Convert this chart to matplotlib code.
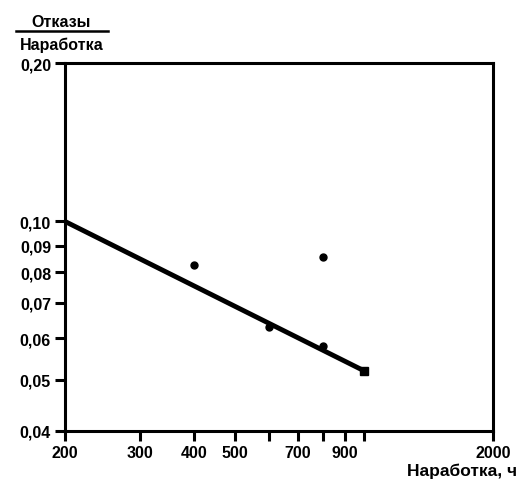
import matplotlib
matplotlib.use("Agg")
import matplotlib.pyplot as plt
from matplotlib.ticker import FixedLocator, NullLocator, FixedFormatter

plt.rcParams["font.family"] = ["Liberation Sans", "DejaVu Sans"]
plt.rcParams["font.weight"] = "bold"

# fitted line (hours, failures per hour)
line_x = [200, 1000]
line_y = [0.100, 0.052]

# observed points
pts_x = [400, 800, 600, 800]
pts_y = [0.0825, 0.0857, 0.063, 0.058]

x_ticks = [200, 300, 400, 500, 700, 900, 2000]
x_minor = [600, 800, 1000]
y_ticks = [0.04, 0.05, 0.06, 0.07, 0.08, 0.09, 0.10, 0.20]
y_labels = ["0,04", "0,05", "0,06", "0,07", "0,08", "0,09", "0,10", "0,20"]

fig = plt.figure(figsize=(5.2, 4.89), dpi=100)
ax = fig.add_axes([0.125, 0.117, 0.823, 0.752])

ax.plot(line_x, line_y, color="black", lw=3.5, solid_capstyle="butt")
ax.plot(line_x[-1], line_y[-1], marker="s", color="black", ms=6)
ax.plot(pts_x, pts_y, "o", color="black", ms=5)

ax.set_xscale("log")
ax.set_yscale("log")
ax.set_xlim(200, 2000)
ax.set_ylim(0.04, 0.20)

ax.xaxis.set_major_locator(FixedLocator(x_ticks))
ax.xaxis.set_major_formatter(FixedFormatter([str(v) for v in x_ticks]))
ax.xaxis.set_minor_locator(FixedLocator(x_minor))
ax.xaxis.set_minor_formatter(FixedFormatter(["", "", ""]))
ax.yaxis.set_major_locator(FixedLocator(y_ticks))
ax.yaxis.set_major_formatter(FixedFormatter(y_labels))
ax.yaxis.set_minor_locator(NullLocator())

for s in ax.spines.values():
    s.set_linewidth(2.2)
ax.tick_params(which="both", direction="out", length=7, width=2.2, labelsize=11.5, pad=3)

# y-axis label as a fraction
fig.text(0.118, 0.955, "Отказы", ha="center", va="center", fontsize=11.5, fontweight="bold")
fig.add_artist(plt.Line2D([0.03, 0.208], [0.934, 0.934], color="black", lw=1.8))
fig.text(0.118, 0.908, "Наработка", ha="center", va="center", fontsize=11.5, fontweight="bold")

fig.text(0.995, 0.02, "Наработка, ч", ha="right", va="bottom", fontsize=12.5, fontweight="bold")

fig.savefig("out.png", dpi=100)
